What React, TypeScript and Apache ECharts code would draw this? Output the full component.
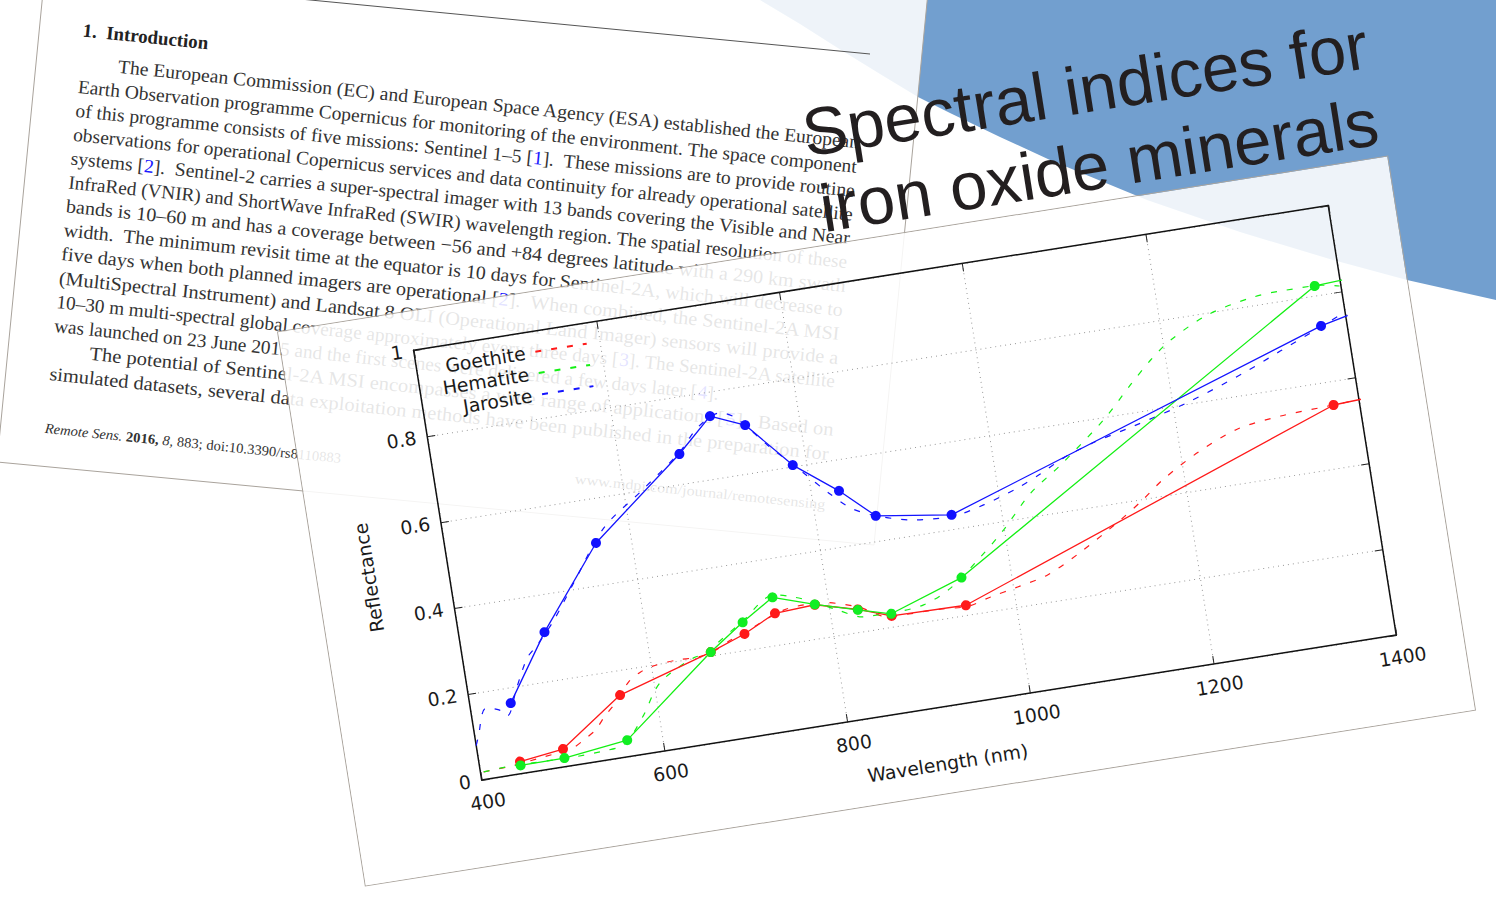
import React, { useEffect, useRef } from "react";
import * as echarts from "echarts";

// ---------- chart data ----------
const xTicks = { min: 400, max: 1400, step: 200 };
const bandNm = [444, 492, 562, 666, 705, 741, 785, 830, 865, 946, 1372, 1610];
const goethiteBands = [0.028, 0.041, 0.143, 0.208, 0.237, 0.273, 0.278, 0.252, 0.225, 0.2225, 0.545, 0.57];
const hematiteBands = [0.019, 0.02, 0.038, 0.208, 0.264, 0.31, 0.279, 0.251, 0.23, 0.287, 0.822, 0.85];
const jarositeBands = [0.164, 0.313, 0.497, 0.669, 0.744, 0.711, 0.603, 0.528, 0.458, 0.433, 0.729, 0.84];

const goethiteNm = [403.5, 433, 470, 502.5, 515.6, 530, 540.6, 558.6, 573.4, 587.8, 601.7, 630.4, 646.7, 665.8, 689.2, 705, 750.8, 784.8, 830.2, 863.7, 910.8, 945.4, 973.8, 1004.3, 1038.3, 1077.4, 1125.5, 1152.3, 1178.2, 1220.2, 1265.6, 1313.7, 1361.1, 1398.5];
const goethiteR = [0.0175, 0.021, 0.03, 0.04, 0.054, 0.0725, 0.097, 0.133, 0.17, 0.188, 0.197, 0.202, 0.201, 0.206, 0.228, 0.24, 0.277, 0.282, 0.258, 0.223, 0.2235, 0.219, 0.2325, 0.2455, 0.262, 0.302, 0.361, 0.398, 0.438, 0.487, 0.525, 0.539, 0.544, 0.548];
const hematiteNm = [403.5, 433, 502, 535, 557.4, 583.8, 598.2, 607.5, 619.7, 646.7, 666, 674.8, 705, 741.6, 763.7, 784.2, 808.4, 834.9, 864.4, 901, 932.6, 969.9, 999, 1034.1, 1070.8, 1124.2, 1158.9, 1184.5, 1209.2, 1252.9, 1301.6, 1334.8, 1370.8, 1398.5];
const hematiteR = [0.0175, 0.021, 0.019, 0.022, 0.0285, 0.089, 0.136, 0.158, 0.175, 0.201, 0.208, 0.226, 0.266, 0.315, 0.303, 0.285, 0.258, 0.233, 0.232, 0.2385, 0.267, 0.327, 0.38, 0.454, 0.507, 0.594, 0.664, 0.713, 0.751, 0.795, 0.818, 0.823, 0.823, 0.813];
const jarositeNm = [400, 403.8, 416.4, 430.3, 438.2, 452.8, 469.3, 482.2, 504.1, 531.4, 572.7, 620, 666, 689.6, 714.8, 732, 761.3, 795.3, 818.6, 839.5, 861.5, 901.5, 944.7, 981.8, 1020.7, 1047.9, 1075.2, 1108.6, 1155.2, 1217.9, 1281.4, 1324.7, 1371.4, 1400];
const jarositeR = [0.08, 0.0995, 0.161, 0.153, 0.136, 0.196, 0.261, 0.2865, 0.337, 0.414, 0.528, 0.6, 0.672, 0.722, 0.748, 0.731, 0.658, 0.581, 0.527, 0.485, 0.461, 0.436, 0.429, 0.444, 0.47, 0.494, 0.522, 0.5455, 0.569, 0.604, 0.65, 0.687, 0.727, 0.752];

const seriesNames = ["Goethite", "Hematite", "Jarosite"];
const seriesColors = ["#ff1a1a", "#14f014", "#1414ff"];
const markerColors = ["#ff1a1a", "#11ee22", "#1111ff"];

// ---------- slide text ----------
const titleLines = ["Spectral indices for", "iron oxide minerals"];
const sectionHeading = "1.  Introduction";
const paperLines = [
  "The European Commission (EC) and European Space Agency (ESA) established the European",
  "Earth Observation programme Copernicus for monitoring of the environment. The space component",
  "of this programme consists of five missions: Sentinel 1–5 [{link|1}].  These missions are to provide routine",
  "observations for operational Copernicus services and data continuity for already operational satellite",
  "systems [{link|2}].  Sentinel-2 carries a super-spectral imager with 13 bands covering the Visible and Near",
  "InfraRed (VNIR) and ShortWave InfraRed (SWIR) wavelength region. The spatial resolution of these",
  "bands is 10–60 m and has a coverage between −56 and +84 degrees latitude with a 290 km swath",
  "width.  The minimum revisit time at the equator is 10 days for Sentinel-2A, which will decrease to",
  "five days when both planned imagers are operational [{link|2}].  When combined, the Sentinel-2A MSI",
  "(MultiSpectral Instrument) and Landsat 8 OLI (Operational Land Imager) sensors will provide a",
  "10–30 m multi-spectral global coverage approximately every three days [{link|3}]. The Sentinel-2A satellite",
  "was launched on 23 June 2015 and the first scenes were delivered a few days later [{link|4}].",
  "The potential of Sentinel-2A MSI encompasses a wide range of applications [{link|5}].  Based on",
  "simulated datasets, several data exploitation methods have been published in the preparation for",
];
const paperLineWidths = [746, 784, 784, 784, 784, 784, 784, 784, 784, 784, 784, 668, 748, 784];
const paperIndents = [38, 0, 0, 0, 0, 0, 0, 0, 0, 0, 0, 0, 38, 0];
const footerText = "{it|Remote Sens.} {bold|2016,} {it|8,} 883; doi:10.3390/rs8110883";
const journalUrl = "www.mdpi.com/journal/remotesensing";

const SERIF = '"Liberation Serif", serif';
const PAPER_ANGLE = (-5.85 * Math.PI) / 180;
const TITLE_ANGLE = (9 * Math.PI) / 180;

const plain = (s: string) => s.replace(/\{\w+\|([^}]*)\}/g, "$1");
const measureCtx = document.createElement("canvas").getContext("2d") as CanvasRenderingContext2D;
function scaleFor(text: string, font: string, target: number) {
  measureCtx.font = font;
  return target / measureCtx.measureText(plain(text)).width;
}

const paperText = (text: string, x: number, y: number, size: number, target: number, weight = "normal", fill = "#333333") => ({
  type: "text",
  x,
  y,
  rotation: PAPER_ANGLE,
  scaleX: scaleFor(text, `${weight} ${size}px ${SERIF}`, target),
  style: {
    text,
    fill,
    fontSize: size,
    fontFamily: SERIF,
    fontWeight: weight,
    align: "left",
    verticalAlign: "middle",
    textAlign: "left",
    textVerticalAlign: "middle",
    rich: {
      link: { fill: "#1a1aff", fontSize: size, fontFamily: SERIF },
      it: { fill, fontSize: size, fontFamily: SERIF, fontStyle: "italic" },
      bold: { fill, fontSize: size, fontFamily: SERIF, fontWeight: "bold" },
    },
  },
});

function backgroundOption() {
  const blueEdge = [[760, 0], [800, 24], [833, 45], [880, 74], [918, 97], [950, 113], [1000, 137], [1050, 160], [1147, 200], [1240, 232], [1333, 260], [1407, 280], [1496, 300]];
  const lines = paperLines.map((t, i) => {
    const mx = 80.4 - 2.37 * i;
    const my = 71.1 + 23.9 * i;
    const ix = paperIndents[i];
    return paperText(t, mx + ix * 0.995, my + ix * 0.098 - 8.5, 19, paperLineWidths[i]);
  });
  return {
    animation: false,
    backgroundColor: "#ffffff",
    graphic: {
      elements: [
        { type: "polygon", shape: { points: [...blueEdge, [1496, 0]] }, style: { fill: "#729fcf" }, silent: true },
        {
          type: "polygon",
          shape: { points: [[52, -100], [937, -100], [874, 545], [-3, 462]] },
          style: { fill: "rgba(255,255,255,0.88)", stroke: "#a9a39c", lineWidth: 1 },
          silent: true,
        },
        { type: "line", shape: { x1: 300, y1: -1, x2: 870, y2: 54 }, style: { stroke: "#555555", lineWidth: 1 }, silent: true },
        paperText(sectionHeading, 83, 30, 19, 126, "bold", "#222222"),
        ...lines,
        paperText(footerText, 45, 428, 14, 300),
        paperText(journalUrl, 575, 479, 14, 252),
        ...titleLines.map((t, i) => ({
          type: "text",
          x: 1085 + i * 14,
          y: 89 + i * 76,
          rotation: TITLE_ANGLE,
          style: {
            text: t,
            fill: "#231f20",
            fontSize: 67.2,
            fontFamily: '"Liberation Sans", sans-serif',
            align: "center",
            verticalAlign: "middle",
            textAlign: "center",
            textVerticalAlign: "middle",
          },
        })),
      ],
    },
  };
}

function chartOption() {
  const zip = (a: number[], b: number[]) => a.map((v, i) => [v, b[i]]);
  const spectra = [zip(goethiteNm, goethiteR), zip(hematiteNm, hematiteR), zip(jarositeNm, jarositeR)];
  const bands = [goethiteBands, hematiteBands, jarositeBands];
  const labelStyle = { fontFamily: '"DejaVu Sans"', fontSize: 18.8, color: "#1a1a1a" };
  const grid = { show: true, lineStyle: { color: "#999999", width: 1, type: [1, 4] } };
  const tick = { show: true, inside: true, length: 8, lineStyle: { color: "#222222", width: 1 } };
  const line = { show: true, onZero: false, lineStyle: { color: "#111111", width: 1.5 } };
  return {
    animation: false,
    backgroundColor: "rgba(255,255,255,0.88)",
    grid: { left: 131, right: 66, top: 39, bottom: 86, containLabel: false },
    legend: {
      data: seriesNames,
      orient: "vertical",
      align: "right",
      right: 819,
      top: 50,
      itemWidth: 52,
      itemHeight: 14,
      itemGap: 2.5,
      padding: 0,
      selectedMode: false,
      itemStyle: { opacity: 0 },
      textStyle: { fontFamily: '"DejaVu Sans"', fontSize: 18.8, color: "#1a1a1a", padding: [0, 5, 0, 0] },
    },
    xAxis: [
      {
        type: "value",
        min: xTicks.min,
        max: xTicks.max,
        interval: xTicks.step,
        position: "bottom",
        name: "Wavelength (nm)",
        nameLocation: "middle",
        nameGap: 47,
        nameTextStyle: labelStyle,
        axisLine: line,
        axisTick: tick,
        axisLabel: { ...labelStyle, margin: 13, padding: [0, 0, 0, 6], formatter: (v: number) => String(v) },
        splitLine: grid,
      },
      {
        type: "value",
        min: xTicks.min,
        max: xTicks.max,
        interval: xTicks.step,
        position: "top",
        axisLine: line,
        axisTick: tick,
        axisLabel: { show: false },
        splitLine: { show: false },
      },
    ],
    yAxis: [
      {
        type: "value",
        min: 0,
        max: 1,
        interval: 0.2,
        position: "left",
        name: "Reflectance",
        nameLocation: "middle",
        nameGap: 70,
        nameTextStyle: labelStyle,
        axisLine: line,
        axisTick: tick,
        axisLabel: { ...labelStyle, margin: 11 },
        splitLine: grid,
      },
      {
        type: "value",
        min: 0,
        max: 1,
        interval: 0.2,
        position: "right",
        axisLine: line,
        axisTick: tick,
        axisLabel: { show: false },
        splitLine: { show: false },
      },
    ],
    series: [
      ...seriesNames.map((name, i) => ({
        name,
        type: "line",
        data: spectra[i],
        smooth: 0.3,
        symbol: "none",
        lineStyle: { color: seriesColors[i], width: 1.2, type: [6, 10] },
        itemStyle: { color: seriesColors[i] },
        z: 2,
      })),
      ...seriesNames.map((name, i) => ({
        name: `${name} bands`,
        type: "line",
        data: zip(bandNm, bands[i]),
        symbol: "circle",
        symbolSize: 10,
        lineStyle: { color: seriesColors[i], width: 1.3 },
        itemStyle: { color: markerColors[i] },
        z: 3,
      })),
    ],
  };
}

export default function App() {
  const bgRef = useRef<HTMLDivElement>(null);
  const chartRef = useRef<HTMLDivElement>(null);
  useEffect(() => {
    const bg = echarts.init(bgRef.current as HTMLDivElement, undefined, { renderer: "svg" });
    const chart = echarts.init(chartRef.current as HTMLDivElement, undefined, { renderer: "svg" });
    bg.setOption(backgroundOption() as any);
    chart.setOption(chartOption() as any);
    return () => {
      bg.dispose();
      chart.dispose();
    };
  }, []);
  return (
    <div style={{ position: "fixed", left: 0, top: 0, width: 1496, height: 899, overflow: "hidden", background: "#fff" }}>
      <div ref={bgRef} style={{ position: "absolute", left: 0, top: 0, width: 1496, height: 899 }} />
      <div
        ref={chartRef}
        style={{
          position: "absolute",
          left: 314.5,
          top: 241,
          width: 1123,
          height: 560,
          transform: "rotate(-9deg)",
          outline: "1px solid #aaa49d",
        }}
      />
    </div>
  );
}
